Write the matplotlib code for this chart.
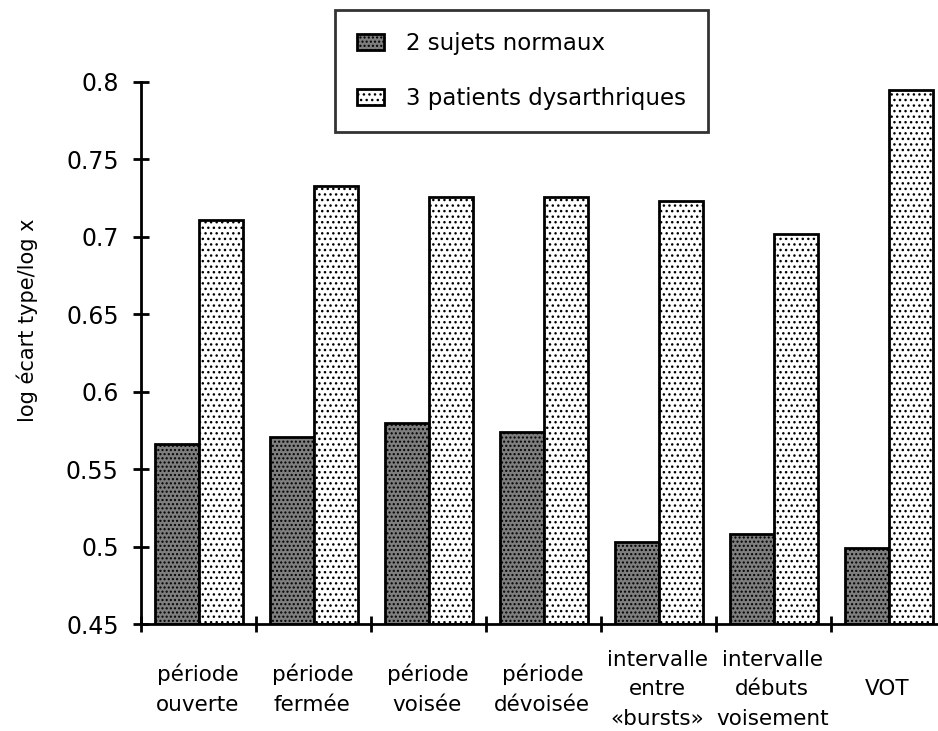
import matplotlib
matplotlib.use("Agg")
import matplotlib.pyplot as plt
import numpy as np

categories = ["période\nouverte", "période\nfermée", "période\nvoisée", "période\ndévoisée",
              "intervalle\nentre\n«bursts»", "intervalle\ndébuts\nvoisement", "VOT"]
normaux = [0.566, 0.571, 0.580, 0.574, 0.503, 0.508, 0.499]
dysarthriques = [0.711, 0.733, 0.726, 0.726, 0.723, 0.702, 0.795]
series_labels = ["2 sujets normaux", "3 patients dysarthriques"]
yticks = [0.45, 0.5, 0.55, 0.6, 0.65, 0.7, 0.75, 0.8]
ytick_labels = ["0.45", "0.5", "0.55", "0.6", "0.65", "0.7", "0.75", "0.8"]

plt.rcParams['hatch.linewidth'] = 1.0
fig = plt.figure(figsize=(9.38, 7.31), dpi=100)
ax = fig.add_axes([141/938, 107/731, 805/938, 542/731])

x = np.arange(len(categories))
b1 = ax.bar(x + 0.12, [v - 0.45 for v in normaux], bottom=0.45, width=0.385, align='edge',
            facecolor='#7e7e7e', edgecolor='black', linewidth=2, hatch='....',
            label=series_labels[0])
b2 = ax.bar(x + 0.505, [v - 0.45 for v in dysarthriques], bottom=0.45, width=0.385, align='edge',
            facecolor='white', edgecolor='black', linewidth=2, hatch='...',
            label=series_labels[1])

ax.set_xlim(0, len(categories))
ax.set_ylim(0.45, 0.8)
ax.set_yticks(yticks)
ax.set_yticklabels(ytick_labels)
ax.set_xticks(np.arange(len(categories) + 1))
ax.set_xticklabels([])
ax.set_xticks(x + 0.49, minor=True)
ax.set_xticklabels(categories, minor=True, fontsize=15.5, linespacing=1.6)
for lab in ax.get_xticklabels(minor=True):
    lab.set_verticalalignment('center')
ax.tick_params(axis='x', which='minor', length=0, pad=47)
ax.tick_params(axis='x', which='major', direction='inout', length=12, width=2)
ax.tick_params(axis='y', direction='inout', length=12, width=2, labelsize=17, pad=10)

for s in ['top', 'right']:
    ax.spines[s].set_visible(False)
for s in ['left', 'bottom']:
    ax.spines[s].set_linewidth(2)

ax.set_ylabel("log écart type/log x", fontsize=15)
ax.yaxis.set_label_coords(-0.128, 0.56)

leg = ax.legend(loc='upper left', bbox_to_anchor=(335/938, 1 - 10/731),
                bbox_transform=fig.transFigure, fontsize=16.5, frameon=True,
                fancybox=False, edgecolor='black', borderaxespad=0,
                handlelength=1.2, handleheight=0.72, handletextpad=0.95,
                labelspacing=1.4, borderpad=0.95)
leg.get_frame().set_linewidth(2)

fig.savefig("out.png", dpi=100)
